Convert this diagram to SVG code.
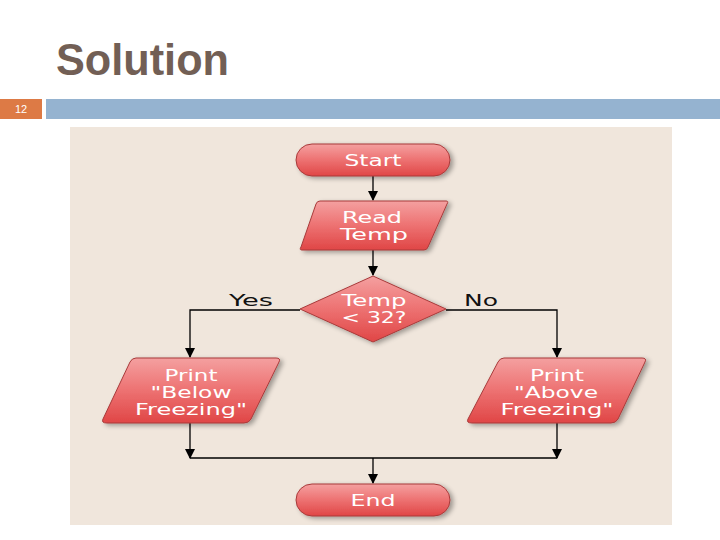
<svg xmlns="http://www.w3.org/2000/svg" width="720" height="540" viewBox="0 0 720 540">
<defs>
<linearGradient id="red" x1="0" y1="0" x2="0" y2="1">
<stop offset="0" stop-color="#f4a0a0"/>
<stop offset="0.45" stop-color="#ee7676"/>
<stop offset="1" stop-color="#e04646"/>
</linearGradient>
<filter id="sh" x="-20%" y="-20%" width="150%" height="160%">
<feGaussianBlur in="SourceAlpha" stdDeviation="2.5"/>
<feOffset dx="3" dy="2"/>
<feComponentTransfer><feFuncA type="linear" slope="0.35"/></feComponentTransfer>
<feMerge><feMergeNode/><feMergeNode in="SourceGraphic"/></feMerge>
</filter>
<marker id="ah" markerWidth="10" markerHeight="10" refX="9" refY="5" orient="auto" markerUnits="userSpaceOnUse">
<path d="M0,0 L10,5 L0,10 Z" fill="#000"/>
</marker>
</defs>
<style>
.shape{fill:url(#red);stroke:#a83a3a;stroke-width:1;filter:url(#sh)}
.lbl{font-family:"DejaVu Sans","Liberation Sans",sans-serif;font-size:15px;fill:#ffffff;text-anchor:middle}
.side{font-family:"DejaVu Sans","Liberation Sans",sans-serif;font-size:15px;fill:#111;text-anchor:middle}
.con{stroke:#000;stroke-width:1.3;fill:none}
</style>
<rect width="720" height="540" fill="#ffffff"/>
<text x="56" y="75" font-family="Liberation Sans,Arial,sans-serif" font-size="44" font-weight="bold" fill="#725f55" textLength="173" lengthAdjust="spacingAndGlyphs">Solution</text>
<rect x="0" y="99" width="42" height="20" fill="#dd7a45"/>
<text x="21" y="113" font-family="Liberation Sans,Arial,sans-serif" font-size="11" fill="#ffffff" text-anchor="middle">12</text>
<rect x="46" y="99" width="674" height="20" fill="#95b3d0"/>
<rect x="70" y="127" width="602" height="398" fill="#f0e6dc"/>

<g id="connectors">
<path class="con" d="M373,176 V200" marker-end="url(#ah)"/>
<path class="con" d="M373,250 V275" marker-end="url(#ah)"/>
<path class="con" d="M300,310 H190 V357" marker-end="url(#ah)"/>
<path class="con" d="M446,310 H557 V357" marker-end="url(#ah)"/>
<path class="con" d="M190,423 V458" marker-end="url(#ah)"/>
<path class="con" d="M557,423 V458" marker-end="url(#ah)"/>
<path class="con" d="M190,458 H557"/>
<path class="con" d="M373,458 V483" marker-end="url(#ah)"/>
<text class="side" x="251" y="306" textLength="44" lengthAdjust="spacingAndGlyphs">Yes</text>
<text class="side" x="481" y="306" textLength="34" lengthAdjust="spacingAndGlyphs">No</text>
</g>

<g id="start">
<rect class="shape" x="296" y="144" width="154" height="32" rx="16" ry="16"/>
<text class="lbl" x="373" y="166" textLength="57" lengthAdjust="spacingAndGlyphs">Start</text>
</g>
<g id="read">
<path class="shape" d="M320,201 H446 Q449,201 447,204 L428,247 Q427,250 424,250 H302 Q299,250 301,247 L316,204 Q317,201 320,201 Z"/>
<text class="lbl" x="372" y="223" textLength="60" lengthAdjust="spacingAndGlyphs">Read</text>
<text class="lbl" x="374" y="240" textLength="68" lengthAdjust="spacingAndGlyphs">Temp</text>
</g>
<g id="decision">
<path class="shape" d="M373,276 L446,309 L373,342 L300,309 Z"/>
<text class="lbl" x="374" y="306" textLength="65" lengthAdjust="spacingAndGlyphs">Temp</text>
<text class="lbl" x="374" y="323" textLength="65" lengthAdjust="spacingAndGlyphs">&lt; 32?</text>
</g>
<g id="below">
<path class="shape" d="M136,358 H276 Q281,358 279,362 L251,419 Q249,423 244,423 H107 Q101,423 103,419 L130,362 Q132,358 136,358 Z"/>
<text class="lbl" x="191" y="381" textLength="53" lengthAdjust="spacingAndGlyphs">Print</text>
<text class="lbl" x="191" y="398" textLength="81" lengthAdjust="spacingAndGlyphs">"Below</text>
<text class="lbl" x="191" y="415" textLength="112" lengthAdjust="spacingAndGlyphs">Freezing"</text>
</g>
<g id="above">
<path class="shape" d="M504,358 H642 Q647,358 645,362 L618,419 Q616,423 611,423 H472 Q466,423 468,419 L498,362 Q500,358 504,358 Z"/>
<text class="lbl" x="557" y="381" textLength="54" lengthAdjust="spacingAndGlyphs">Print</text>
<text class="lbl" x="556" y="398" textLength="84" lengthAdjust="spacingAndGlyphs">"Above</text>
<text class="lbl" x="557" y="415" textLength="113" lengthAdjust="spacingAndGlyphs">Freezing"</text>
</g>
<g id="end">
<rect class="shape" x="296" y="484" width="154" height="32" rx="16" ry="16"/>
<text class="lbl" x="373" y="506" textLength="45" lengthAdjust="spacingAndGlyphs">End</text>
</g>
</svg>
